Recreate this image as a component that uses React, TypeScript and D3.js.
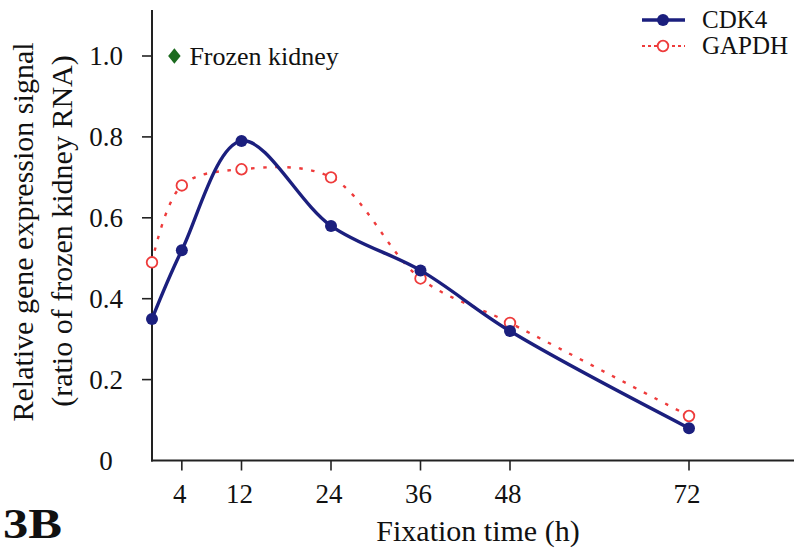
import React from "react";
import * as d3 from "d3";

const times = [0, 4, 12, 24, 36, 48, 72];
const cdk4 = [0.35, 0.52, 0.79, 0.58, 0.47, 0.32, 0.08];
const gapdh = [0.49, 0.68, 0.72, 0.7, 0.45, 0.34, 0.11];
const xTicks = [4, 12, 24, 36, 48, 72];
const yTicks = [0, 0.2, 0.4, 0.6, 0.8, 1.0];
const frozenKidney = [{ t: 3, v: 1.0, label: "Frozen kidney" }];
const seriesNames = ["CDK4", "GAPDH"];

const W = 794;
const H = 548;
const FONT = "Liberation Serif, Times New Roman, Times, serif";
const NAVY = "#1b1f7e";
const RED = "#ee3b3b";
const GREEN = "#1c6b1f";

export default function App() {
  const x = d3.scaleLinear().domain([0, 72]).range([152, 689]);
  const y = d3.scaleLinear().domain([0, 1]).range([460.5, 56]);
  const xEnd = x.invert(794);
  const yTop = 1.114;

  const cdkPts: [number, number][] = times.map((t, i) => [x(t), y(cdk4[i])]);
  const gapPts: [number, number][] = times.map((t, i) => [x(t), y(gapdh[i])]);
  const line = d3.line<[number, number]>().curve(d3.curveCatmullRom.alpha(0.5));

  const diamond = d3.symbol().type(d3.symbolSquare).size(78)();
  const ts = { fontFamily: FONT } as React.CSSProperties;

  return (
    <svg
      width={W}
      height={H}
      style={{ position: "absolute", left: 0, top: 0, background: "#fff", fontFamily: FONT }}
    >
      {/* axes */}
      <line x1={x(0)} x2={x(0)} y1={y(0) + 1} y2={y(yTop)} stroke="#222" strokeWidth={2} />
      <line x1={x(0) - 1} x2={x(xEnd)} y1={y(0)} y2={y(0)} stroke="#222" strokeWidth={2} />
      {yTicks.map((v) => (
        <g key={"y" + v}>
          {v !== 0 && (
            <line x1={x(0) - 10} x2={x(0)} y1={y(v)} y2={y(v)} stroke="#222" strokeWidth={1.6} />
          )}
          <text x={106} y={y(v) + 9} fontSize={27} textAnchor="middle" fill="#111" style={ts}>
            {v === 0 ? "0" : v.toFixed(1)}
          </text>
        </g>
      ))}
      {xTicks.map((t) => (
        <g key={"x" + t}>
          <line x1={x(t)} x2={x(t)} y1={y(0)} y2={y(0) + 10} stroke="#222" strokeWidth={1.6} />
          <text x={x(t) - 2} y={503} fontSize={27} textAnchor="middle" fill="#111" style={ts}>
            {t}
          </text>
        </g>
      ))}

      {/* axis titles */}
      <text transform="translate(33,232) rotate(-90)" fontSize={30} textAnchor="middle" fill="#111" style={ts}>
        Relative gene expression signal
      </text>
      <text transform="translate(72,231) rotate(-90)" fontSize={30} textAnchor="middle" fill="#111" style={ts}>
        (ratio of frozen kidney RNA)
      </text>
      <text x={478} y={541} fontSize={30} textAnchor="middle" fill="#111" style={ts}>
        Fixation time (h)
      </text>
      <text
        x={3}
        y={538}
        fontSize={42}
        fontWeight="bold"
        textLength={59}
        lengthAdjust="spacingAndGlyphs"
        fill="#111"
        style={ts}
      >
        3B
      </text>

      {/* frozen kidney annotation */}
      {frozenKidney.map((d) => (
        <g key={d.label}>
          <path d={diamond!} transform={`translate(${x(d.t)},${y(d.v)}) scale(1,1.25) rotate(45)`} fill={GREEN} />
          <text x={x(d.t) + 15} y={y(d.v) + 9} fontSize={26} fill="#111" style={ts}>
            {d.label}
          </text>
        </g>
      ))}

      {/* GAPDH */}
      <path d={line(gapPts)!} fill="none" stroke={RED} strokeWidth={2.4} strokeDasharray="3.5 8.5" />
      {gapPts.map((p, i) => (
        <circle key={"g" + i} cx={p[0]} cy={p[1]} r={5.3} fill="#fff" stroke={RED} strokeWidth={1.8} />
      ))}

      {/* CDK4 */}
      <path d={line(cdkPts)!} fill="none" stroke={NAVY} strokeWidth={3.4} />
      {cdkPts.map((p, i) => (
        <circle key={"c" + i} cx={p[0]} cy={p[1]} r={6} fill={NAVY} />
      ))}

      {/* legend */}
      <g>
        <line x1={642} x2={685} y1={20} y2={20} stroke={NAVY} strokeWidth={3.4} />
        <circle cx={663} cy={20} r={6} fill={NAVY} />
        <text x={702} y={28} fontSize={25} fill="#111" style={ts}>{seriesNames[0]}</text>
        <line x1={642} x2={685} y1={46} y2={46} stroke={RED} strokeWidth={2.2} strokeDasharray="3 3" />
        <circle cx={663} cy={46} r={5.3} fill="#fff" stroke={RED} strokeWidth={1.8} />
        <text x={702} y={54} fontSize={25} fill="#111" style={ts}>{seriesNames[1]}</text>
      </g>
    </svg>
  );
}
